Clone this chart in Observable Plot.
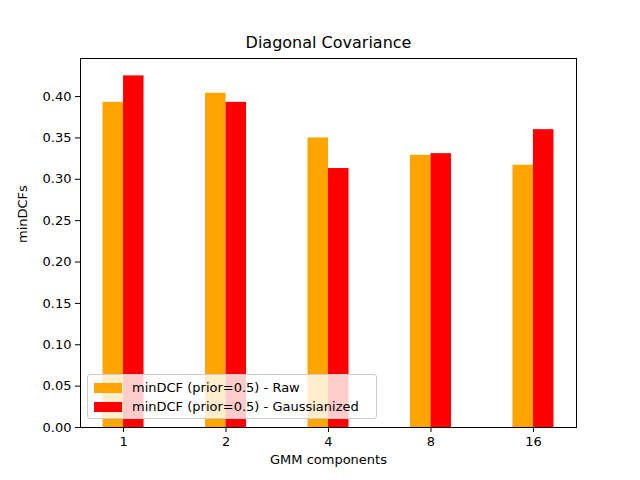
<!DOCTYPE html>
<html><head>
<script src="https://cdn.jsdelivr.net/npm/d3@7"></script>
<script src="https://cdn.jsdelivr.net/npm/@observablehq/plot@0.6"></script>
<style>
body{margin:0;background:#fff;font-family:"DejaVu Sans",sans-serif}
#wrap{position:relative;width:640px;height:480px}
#legend{position:absolute;left:87px;top:374px;width:290px;height:45px;border:1px solid #ccc;border-radius:3px;background:rgba(255,255,255,0.8);font-size:13px;box-sizing:border-box;padding:3px 6px}
#legend div{display:flex;align-items:center;height:19px}
#legend span.sw{display:inline-block;width:28px;height:10px;margin-right:10px}
</style>
</head><body>
<div id="wrap"><div id="legend"></div></div>
<script>
const components = ["1", "2", "4", "8", "16"];
const rawDCF = [0.393, 0.404, 0.350, 0.329, 0.317];
const gaussDCF = [0.425, 0.393, 0.313, 0.331, 0.360];
const seriesNames = ["minDCF (prior=0.5) - Raw", "minDCF (prior=0.5) - Gaussianized"];
const seriesColors = ["orange", "red"];

const rows = [];
components.forEach((c, i) => {
  rows.push({i, s: 0, v: rawDCF[i]});
  rows.push({i, s: 1, v: gaussDCF[i]});
});

const chart = Plot.plot({
  width: 640, height: 480,
  marginLeft: 80, marginRight: 64, marginTop: 58, marginBottom: 53,
  style: {fontFamily: "DejaVu Sans", fontSize: "13px", color: "#000"},
  x: {domain: [-0.42, 4.42], ticks: d3.range(components.length), tickFormat: i => components[i], label: null, tickSize: 5},
  y: {domain: [0, 0.446], ticks: d3.range(0, 0.41, 0.05), tickFormat: d3.format(".2f"), label: null, tickSize: 5},
  marks: [
    Plot.rectY(rows, {x1: d => d.i - 0.2 + d.s * 0.2, x2: d => d.i + d.s * 0.2, y1: 0, y2: "v", fill: d => seriesColors[d.s]}),
    Plot.frame({stroke: "#000"}),
    Plot.text(["Diagonal Covariance"], {frameAnchor: "top", dy: -22, fontSize: 16}),
    Plot.text(["GMM components"], {frameAnchor: "bottom", dy: 36, fontSize: 13}),
    Plot.text(["minDCFs"], {frameAnchor: "left", dx: -58, rotate: -90, fontSize: 13})
  ]
});
document.getElementById("wrap").prepend(chart);
chart.style.position = "absolute"; chart.style.left = "0"; chart.style.top = "0";
d3.select("#legend").selectAll("div").data(seriesNames).join("div")
  .html((d, i) => `<span class="sw" style="background:${seriesColors[i]}"></span>${d}`);
</script>
</body></html>
